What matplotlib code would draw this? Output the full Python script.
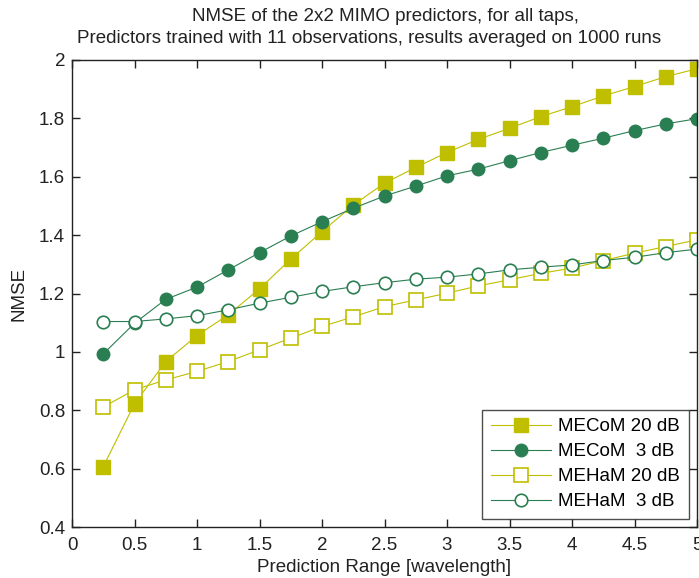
import matplotlib
matplotlib.use("Agg")
import matplotlib.pyplot as plt

plt.rcParams['font.family'] = ['Liberation Sans', 'DejaVu Sans']

# Prediction range (wavelengths)
prediction_range = [0.25, 0.5, 0.75, 1.0, 1.25, 1.5, 1.75, 2.0, 2.25, 2.5,
                    2.75, 3.0, 3.25, 3.5, 3.75, 4.0, 4.25, 4.5, 4.75, 5.0]

mecom_20db = [0.607, 0.822, 0.967, 1.056, 1.127, 1.216, 1.318, 1.412, 1.503, 1.578,
              1.632, 1.683, 1.728, 1.766, 1.806, 1.840, 1.877, 1.909, 1.943, 1.970]
mecom_3db = [0.993, 1.098, 1.180, 1.222, 1.281, 1.340, 1.397, 1.446, 1.492, 1.534,
             1.568, 1.603, 1.626, 1.655, 1.683, 1.708, 1.732, 1.758, 1.781, 1.799]
meham_20db = [0.811, 0.870, 0.904, 0.933, 0.967, 1.007, 1.047, 1.087, 1.120, 1.155,
              1.178, 1.201, 1.226, 1.247, 1.269, 1.287, 1.313, 1.338, 1.361, 1.384]
meham_3db = [1.104, 1.104, 1.113, 1.124, 1.144, 1.167, 1.187, 1.207, 1.223, 1.237,
             1.249, 1.256, 1.267, 1.281, 1.290, 1.298, 1.313, 1.324, 1.340, 1.352]

series_labels = ['MECoM 20 dB', 'MECoM  3 dB', 'MEHaM 20 dB', 'MEHaM  3 dB']
title_lines = ['NMSE of the 2x2 MIMO predictors, for all taps,',
               'Predictors trained with 11 observations, results averaged on 1000 runs']
x_ticks = [0, 0.5, 1, 1.5, 2, 2.5, 3, 3.5, 4, 4.5, 5]
x_tick_labels = ['0', '0.5', '1', '1.5', '2', '2.5', '3', '3.5', '4', '4.5', '5']
y_ticks = [0.4, 0.6, 0.8, 1.0, 1.2, 1.4, 1.6, 1.8, 2.0]
y_tick_labels = ['0.4', '0.6', '0.8', '1', '1.2', '1.4', '1.6', '1.8', '2']

yellow = '#bfbf00'
green = '#2a7f52'
ink = '#222222'
fs = 13.5
W, H = 699, 578

fig = plt.figure(figsize=(W / 100, H / 100), dpi=100)
ax = fig.add_axes([72 / W, 1 - 527 / H, 625 / W, 467 / H])

ax.plot(prediction_range, mecom_20db, color=yellow, lw=0.8, marker='s', ms=9.5,
        mfc=yellow, mec=yellow, label=series_labels[0])
ax.plot(prediction_range, mecom_3db, color=green, lw=0.8, marker='o', ms=9,
        mfc=green, mec=green, label=series_labels[1])
ax.plot(prediction_range, meham_20db, color=yellow, lw=0.8, marker='s', ms=9.5,
        mfc='white', mec=yellow, mew=1.2, label=series_labels[2])
ax.plot(prediction_range, meham_3db, color=green, lw=0.8, marker='o', ms=9,
        mfc='white', mec=green, mew=1.2, label=series_labels[3])

ax.set_xlim(0, 5)
ax.set_ylim(0.4, 2)
ax.set_xticks(x_ticks)
ax.set_xticklabels(x_tick_labels)
ax.set_yticks(y_ticks)
ax.set_yticklabels(y_tick_labels)
ax.tick_params(direction='in', length=6, width=1, top=True, right=True,
               labelsize=fs, colors=ink)
ax.tick_params(axis='x', pad=7)
ax.tick_params(axis='y', pad=5)
for s in ax.spines.values():
    s.set_color(ink)
    s.set_linewidth(1.0)

ax.set_xlabel('Prediction Range [wavelength]', fontsize=fs, color=ink, labelpad=4)
ax.set_ylabel('NMSE', fontsize=fs, color=ink, labelpad=8)

# two-line title, each line placed on its own baseline
fig.text(385 / W, 1 - 21 / H, title_lines[0], ha='center', va='baseline',
         fontsize=fs, color=ink)
fig.text(369 / W, 1 - 43 / H, title_lines[1], ha='center', va='baseline',
         fontsize=fs, color=ink)

leg = ax.legend(loc='lower right', fontsize=fs, frameon=True, fancybox=False,
                edgecolor=ink, borderaxespad=0.45, handlelength=3.2,
                labelspacing=0.42, borderpad=0.45, handletextpad=0.4)
leg.get_frame().set_linewidth(1.0)

fig.savefig('out.png', dpi=100)
